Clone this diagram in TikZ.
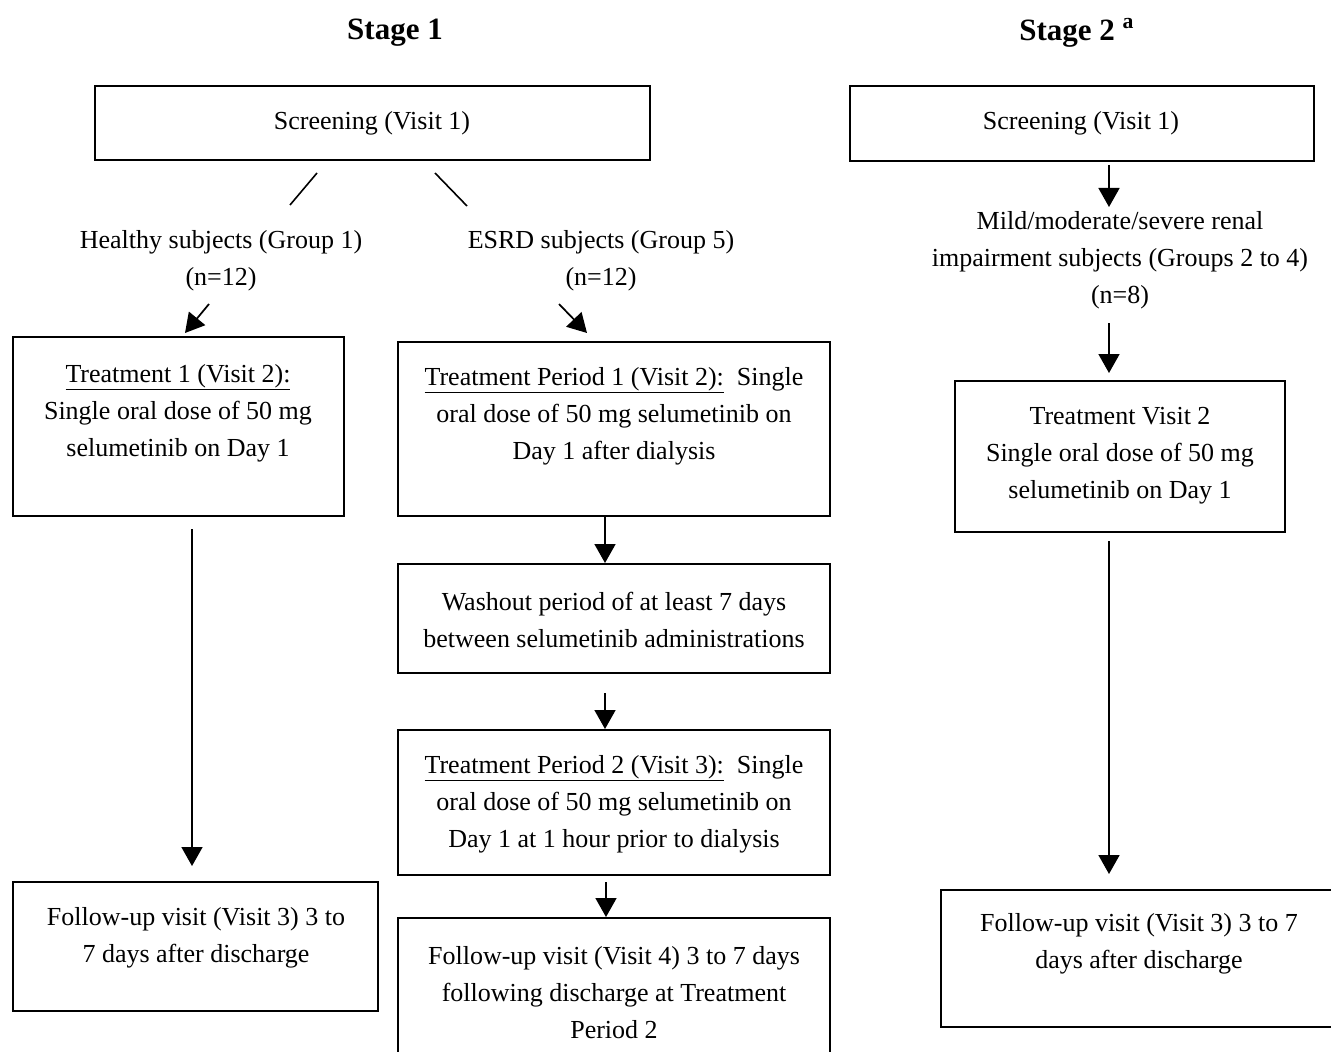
\documentclass[tikz,border=0pt]{standalone}
\usepackage{fontspec}
\setmainfont{Liberation Serif}
\usetikzlibrary{arrows.meta}
\newcommand\mybox[5]{\node[box,minimum width={(#4)*0.75pt},minimum height={(#5)*0.75pt}] (#1) at (#2,#3) {};}
\begin{document}
\begin{tikzpicture}[x=0.75pt,y=-0.75pt,
 box/.style={draw,line width=1.5pt,anchor=north west,inner sep=0pt,outer sep=0pt},
 txt/.style={align=center,font=\fontsize{19.5pt}{27.75pt}\selectfont,inner sep=0pt,yshift=-2.25pt},
 stage/.style={font=\fontsize{23.25pt}{28pt}\selectfont\bfseries,inner sep=0pt,yshift=-3.5pt},
 arr/.style={line width=1.3pt,-{Triangle[length=14.25pt,width=15.75pt]}},
 ln/.style={line width=1.2pt}]
\path[use as bounding box] (0,0) rectangle (1331,1052);
\clip (0,0) rectangle (1331,1052);
\fill[white] (0,0) rectangle (1331,1052);

% stage labels
\node[stage] (st1) at (395,28) {Stage 1};
\node[stage,anchor=west] (st2) at (1019,28) {Stage 2 \textsuperscript{a}};

% boxes
\mybox{scr1}{95}{86}{555}{74}
\mybox{scr2}{850}{86}{464}{75}
\mybox{t1}{13}{337}{331}{179}
\mybox{tp1}{398}{342}{432}{174}
\mybox{wash}{398}{564}{432}{109}
\mybox{tp2}{398}{730}{432}{145}
\mybox{fuf}{398}{918}{432}{150}
\mybox{fuL}{13}{882}{365}{129}
\mybox{tv2}{955}{381}{330}{151}
\mybox{fuR}{941}{890}{400}{137}

% texts
\node[txt] (scr1t) at (372,120) {Screening (Visit 1)};
\node[txt] (scr2t) at (1081,120) {Screening (Visit 1)};
\node[txt] (hs) at (221,258) {Healthy subjects (Group 1)\\(n=12)};
\node[txt] (es) at (601,258) {ESRD subjects (Group 5)\\(n=12)};
\node[txt] (mi) at (1120,257) {Mild/moderate/severe renal\\impairment subjects (Groups 2 to 4)\\(n=8)};
\node[txt] (t1t) at (178,410) {\underline{Treatment 1 (Visit 2):}\\Single oral dose of 50 mg\\selumetinib on Day 1};
\node[txt] (tp1t) at (614,413) {\underline{Treatment Period 1 (Visit 2):}\ \ Single\\oral dose of 50 mg selumetinib on\\Day 1 after dialysis};
\node[txt] (washt) at (614,617) {Washout period of at least 7 days\\between selumetinib administrations};
\node[txt] (tp2t) at (614,801) {\underline{Treatment Period 2 (Visit 3):}\ \ Single\\oral dose of 50 mg selumetinib on\\Day 1 at 1 hour prior to dialysis};
\node[txt] (fuft) at (614,990) {Follow-up visit (Visit 4) 3 to 7 days\\following discharge at Treatment\\Period 2};
\node[txt] (fuLt) at (196,935) {Follow-up visit (Visit 3) 3 to\\7 days after discharge};
\node[txt] (tv2t) at (1120,453) {Treatment Visit 2\\Single oral dose of 50 mg\\selumetinib on Day 1};
\node[txt] (fuRt) at (1139,941) {Follow-up visit (Visit 3) 3 to 7\\days after discharge};

% connector end points
\coordinate (l1a) at (317,173); \coordinate (l1b) at (290,205);
\coordinate (l2a) at (435,173); \coordinate (l2b) at (467,206);
\coordinate (a1s) at (209,304); \coordinate (a1e) at (185,333);
\coordinate (a2s) at (559,304); \coordinate (a2e) at (587,333);
\coordinate (a3s) at (605,516); \coordinate (a3e) at (605,563);
\coordinate (a4s) at (605,693); \coordinate (a4e) at (605,729);
\coordinate (a5s) at (606,882); \coordinate (a5e) at (606,917);
\coordinate (a6s) at (192,529); \coordinate (a6e) at (192,866);
\coordinate (b1s) at (1109,165); \coordinate (b1e) at (1109,207);
\coordinate (b2s) at (1109,323); \coordinate (b2e) at (1109,373);
\coordinate (b3s) at (1109,541); \coordinate (b3e) at (1109,874);

\draw[ln] (l1a) -- (l1b);
\draw[ln] (l2a) -- (l2b);
\draw[arr] (a1s) -- (a1e);
\draw[arr] (a2s) -- (a2e);
\draw[arr] (a3s) -- (a3e);
\draw[arr] (a4s) -- (a4e);
\draw[arr] (a5s) -- (a5e);
\draw[arr] (a6s) -- (a6e);
\draw[arr] (b1s) -- (b1e);
\draw[arr] (b2s) -- (b2e);
\draw[arr] (b3s) -- (b3e);
\end{tikzpicture}
\end{document}
